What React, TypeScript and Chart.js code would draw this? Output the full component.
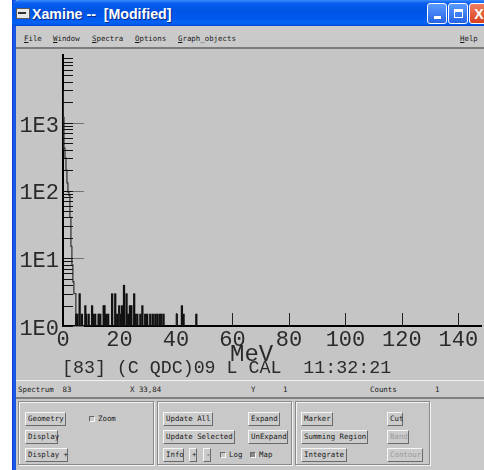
import React, { useEffect, useRef } from "react";
import { Chart, registerables } from "chart.js";

Chart.register(...registerables);

// ---------- data ----------
const decayMeV = [0, 0.35, 0.7, 1.05, 1.4, 1.75, 2.1, 2.45, 2.8, 3.15, 3.5, 3.85, 4.2, 4.55, 4.9];
const decayCounts = [3000, 1200, 420, 300, 200, 130, 95, 85, 40, 15, 8, 4.5, 3, 3, 1];

const eventMeV = [
  4.7, 5.1, 5.9, 6.7, 7.9, 8.2, 9.1, 10.3, 10.7, 11.4, 12.6, 13.2, 14.4, 14.7, 15.3, 16.0,
  17.4, 18.5, 19.2, 19.9, 20.4, 20.9, 21.6, 22.5, 23.1, 23.7, 24.2, 25.2, 25.6, 26.3, 27.4,
  28.1, 29.1, 29.8, 30.9, 31.8, 32.7, 33.4, 34.2, 34.8, 35.6, 40.3, 42.1, 42.7, 47.2,
];
const eventCounts = [
  1.5, 1.5, 3, 1.5, 2, 1.5, 1.5, 2, 1.5, 1.5, 1.5, 1.5, 2, 2, 1.5, 1.5,
  3, 3, 1.5, 2, 1.5, 2, 4, 3, 1.5, 2, 2, 3, 1.5, 1.5, 1.5,
  2, 1.5, 1.5, 1.5, 1.5, 1.5, 1.5, 1.5, 1.5, 1.5, 1.5, 2, 1.5, 1.5,
];

const xTickValues = [0, 20, 40, 60, 80, 100, 120, 140];
const yDecades = [1, 10, 100, 1000];
const yTickLabels = ["1E0", "1E1", "1E2", "1E3"];
const minorMultipliers = [1, 2, 3, 4, 5, 6, 7, 8, 9];
const xTitle = "MeV";
const caption = "[83] (C QDC)09 L CAL  11:32:21";

const titleText = "Xamine --  [Modified]";
const menuItems = [
  { label: "File", x: 24 },
  { label: "Window", x: 53 },
  { label: "Spectra", x: 92 },
  { label: "Options", x: 135 },
  { label: "Graph_objects", x: 178 },
  { label: "Help", x: 460 },
];
const statusItems = [
  { label: "Spectrum  83", x: 18 },
  { label: "X 33,84", x: 130 },
  { label: "Y", x: 251 },
  { label: "1", x: 283 },
  { label: "Counts", x: 370 },
  { label: "1", x: 435 },
];
const buttons = [
  { label: "Geometry", x: 25, y: 412, w: 41 },
  { label: "Display", x: 25, y: 430, w: 33 },
  { label: "Display +", x: 25, y: 448, w: 43 },
  { label: "Update All", x: 163, y: 412, w: 50 },
  { label: "Expand", x: 248, y: 412, w: 32 },
  { label: "Update Selected", x: 163, y: 430, w: 72 },
  { label: "UnExpand", x: 248, y: 430, w: 40 },
  { label: "Info", x: 163, y: 448, w: 21 },
  { label: "+", x: 189, y: 448, w: 8 },
  { label: "-", x: 203, y: 448, w: 8 },
  { label: "Marker", x: 301, y: 412, w: 32 },
  { label: "Cut", x: 387, y: 412, w: 16 },
  { label: "Summing Region", x: 301, y: 430, w: 67 },
  { label: "Band", x: 387, y: 430, w: 22, disabled: true },
  { label: "Integrate", x: 301, y: 448, w: 46 },
  { label: "Contour", x: 387, y: 448, w: 36, disabled: true },
];
const checks = [
  { label: "Zoom", x: 89, y: 416, on: false },
  { label: "Log", x: 220, y: 452, on: false },
  { label: "Map", x: 250, y: 452, on: true },
];
const groups = [
  { x: 18, w: 136 },
  { x: 157, w: 135 },
  { x: 295, w: 135 },
];

const MONO = '"Liberation Mono", "DejaVu Sans Mono", monospace';
const UI = '"DejaVu Sans Mono", monospace';

const axisMarks = {
  id: "axisMarks",
  afterDatasetsDraw(chart: any) {
    const { ctx, chartArea: a, scales } = chart;
    const x = scales.x;
    const y = scales.y;
    ctx.save();
    ctx.lineWidth = 1;
    for (const d of yDecades) {
      for (const m of minorMultipliers) {
        const v = d * m;
        if (v > y.max) continue;
        const py = Math.round(y.getPixelForValue(v)) + 0.5;
        if (m === 1) {
          ctx.strokeStyle = "#727272";
          ctx.beginPath();
          ctx.moveTo(a.left, py);
          ctx.lineTo(a.left + 21, py);
          ctx.stroke();
        }
        ctx.strokeStyle = "#111";
        ctx.beginPath();
        ctx.moveTo(a.left, py);
        ctx.lineTo(a.left + 10, py);
        ctx.stroke();
      }
    }
    ctx.strokeStyle = "#222";
    for (const t of xTickValues) {
      if (t === 0) continue;
      const px = Math.round(x.getPixelForValue(t)) + 0.5;
      ctx.beginPath();
      ctx.moveTo(px, a.bottom);
      ctx.lineTo(px, a.bottom - 13);
      ctx.stroke();
    }
    ctx.fillStyle = "#2a2a2a";
    ctx.textAlign = "left";
    ctx.textBaseline = "alphabetic";
    ctx.font = `24px ${MONO}`;
    ctx.fillText(xTitle, a.left + 167, a.bottom + 35);
    ctx.font = `18.3px ${MONO}`;
    ctx.fillText(caption, a.left - 1, a.bottom + 47);
    ctx.restore();
  },
};

function SpectrumChart() {
  const ref = useRef<HTMLCanvasElement>(null);
  useEffect(() => {
    if (!ref.current) return;
    const chart = new Chart(ref.current, {
      type: "bar",
      data: {
        datasets: [
          {
            type: "line",
            data: decayMeV.map((v, i) => ({ x: v, y: decayCounts[i] })),
            stepped: "after",
            borderColor: "#3a3a3a",
            borderWidth: 1.3,
            pointRadius: 0,
            fill: false,
            order: 1,
          } as any,
          {
            type: "bar",
            data: eventMeV.map((v, i) => ({ x: v, y: eventCounts[i] })),
            backgroundColor: "#111",
            barThickness: 1.6,
            grouped: false,
            order: 0,
          } as any,
        ],
      },
      options: {
        animation: false,
        responsive: false,
        maintainAspectRatio: false,
        layout: { padding: { top: 6, right: 3, left: 0, bottom: 0 } },
        plugins: { legend: { display: false }, tooltip: { enabled: false } },
        scales: {
          x: {
            type: "linear",
            min: 0,
            max: 148,
            offset: false,
            grid: { display: false, drawTicks: false, offset: false },
            border: { display: true, color: "#000", width: 2 },
            ticks: {
              stepSize: 20,
              includeBounds: false,
              autoSkip: false,
              maxRotation: 0,
              padding: 1,
              color: "#2a2a2a",
              font: { family: MONO, size: 22 },
            },
            afterFit: (s: any) => {
              s.height = 54;
              s.paddingLeft = 0;
              s.paddingRight = 0;
            },
          },
          y: {
            type: "logarithmic",
            min: 1,
            max: 10000,
            grid: { display: false, drawTicks: false },
            border: { display: true, color: "#000", width: 2 },
            ticks: {
              autoSkip: false,
              padding: 4,
              labelOffset: 3,
              color: "#2a2a2a",
              font: { family: MONO, size: 22 },
              callback: (v: any) => {
                const idx = yDecades.indexOf(Number(v));
                return idx >= 0 ? yTickLabels[idx] : "";
              },
            },
            afterFit: (s: any) => {
              s.width = 47;
              s.paddingTop = 0;
              s.paddingBottom = 0;
            },
          },
        },
      } as any,
      plugins: [axisMarks],
    });
    return () => chart.destroy();
  }, []);
  return (
    <canvas
      ref={ref}
      width={468}
      height={331}
      style={{ position: "absolute", left: 16, top: 49, width: 468, height: 331 }}
    />
  );
}

function XPButton({ x, bg, children }: { x: number; bg: string; children?: any }) {
  return (
    <div
      style={{
        position: "absolute",
        left: x,
        top: 3,
        width: 20,
        height: 21,
        borderRadius: 3,
        border: "1px solid #fff",
        boxSizing: "border-box",
        background: bg,
        color: "#fff",
        fontWeight: "bold",
        fontFamily: '"Liberation Sans", sans-serif',
        display: "flex",
        alignItems: "center",
        justifyContent: "center",
        fontSize: 14,
      }}
    >
      {children}
    </div>
  );
}

export default function App() {
  const uiText = { fontFamily: UI, fontSize: 7.4, color: "#1a1a1a", whiteSpace: "pre" as const };
  return (
    <div
      style={{
        position: "absolute",
        left: 0,
        top: 0,
        width: 484,
        height: 470,
        overflow: "hidden",
        background: "#fff",
      }}
    >
      {/* window frame */}
      <div style={{ position: "absolute", left: 12, top: 0, width: 480, height: 470, background: "#c8c8c8" }} />
      <div style={{ position: "absolute", left: 12, top: 0, width: 4, height: 470, background: "linear-gradient(to right,#0831d9,#1d5ee8,#1550e0)" }} />
      {/* title bar */}
      <div
        style={{
          position: "absolute",
          left: 12,
          top: 0,
          width: 480,
          height: 26,
          borderRadius: "7px 7px 0 0",
          background:
            "linear-gradient(to bottom,#3b8cff 0%,#0a5ef0 12%,#0054e3 40%,#0058ee 70%,#0463f5 88%,#0048d8 100%)",
        }}
      />
      <div style={{ position: "absolute", left: 16, top: 8, width: 14, height: 11, background: "#e8e8e8", border: "1px solid #5a5a5a", boxSizing: "border-box" }}>
        <div style={{ position: "absolute", left: 1, top: 3, width: 8, height: 2, background: "#333" }} />
      </div>
      <div
        style={{
          position: "absolute",
          left: 32,
          top: 6,
          fontFamily: '"Liberation Sans", Arial, sans-serif',
          fontWeight: "bold",
          fontSize: 14.2,
          color: "#fff",
          whiteSpace: "pre",
          textShadow: "1px 1px 0 #0a2a8a",
        }}
      >
        {titleText}
      </div>
      <XPButton x={427} bg="linear-gradient(#5b9bff,#2663e5)">
        <div style={{ width: 7, height: 3, background: "#fff", marginTop: 8 }} />
      </XPButton>
      <XPButton x={448} bg="linear-gradient(#5b9bff,#2663e5)">
        <div style={{ width: 9, height: 9, border: "1px solid #fff", borderTopWidth: 3, boxSizing: "border-box" }} />
      </XPButton>
      <XPButton x={469} bg="linear-gradient(#f08060,#d84020)">
        X
      </XPButton>

      {/* menu bar */}
      <div style={{ position: "absolute", left: 16, top: 26, width: 470, height: 21, background: "#cacaca" }} />
      {menuItems.map((m) => (
        <div key={m.label} style={{ ...uiText, position: "absolute", left: m.x, top: 34 }}>
          <span style={{ textDecoration: "underline" }}>{m.label[0]}</span>
          {m.label.slice(1)}
        </div>
      ))}
      <div style={{ position: "absolute", left: 16, top: 47, width: 470, height: 2, background: "#7c7c7c" }} />

      {/* plot area */}
      <div style={{ position: "absolute", left: 16, top: 49, width: 470, height: 331, background: "#c5c5c5" }} />
      <SpectrumChart />

      {/* status bar */}
      <div style={{ position: "absolute", left: 16, top: 380, width: 470, height: 1, background: "#f0f0f0" }} />
      <div style={{ position: "absolute", left: 16, top: 381, width: 470, height: 17, background: "#cacaca" }} />
      {statusItems.map((s, i) => (
        <div key={i} style={{ ...uiText, position: "absolute", left: s.x, top: 385 }}>
          {s.label}
        </div>
      ))}
      <div style={{ position: "absolute", left: 16, top: 397, width: 470, height: 2, background: "#808080" }} />
      <div style={{ position: "absolute", left: 16, top: 399, width: 470, height: 71, background: "#c8c8c8" }} />

      {/* control groups */}
      {groups.map((g, i) => (
        <div
          key={i}
          style={{
            position: "absolute",
            left: g.x,
            top: 401,
            width: g.w,
            height: 64,
            boxSizing: "border-box",
            border: "1px solid #8a8a8a",
            boxShadow: "inset 1px 1px 0 #f4f4f4, 1px 1px 0 #f4f4f4",
          }}
        />
      ))}
      {buttons.map((b) => (
        <div
          key={b.label}
          style={{
            ...uiText,
            position: "absolute",
            left: b.x,
            top: b.y,
            width: b.w,
            height: 14,
            boxSizing: "border-box",
            borderStyle: "solid",
            borderWidth: 1,
            borderColor: "#f6f6f6 #6a6a6a #6a6a6a #f6f6f6",
            background: "#cbcbcb",
            paddingLeft: 2,
            lineHeight: "12px",
            color: b.disabled ? "#9a9a9a" : "#1a1a1a",
          }}
        >
          {b.label}
        </div>
      ))}
      {checks.map((c) => (
        <React.Fragment key={c.label}>
          <div
            style={{
              position: "absolute",
              left: c.x,
              top: c.y,
              width: 6,
              height: 6,
              boxSizing: "border-box",
              borderStyle: "solid",
              borderWidth: 1,
              borderColor: "#6a6a6a #f6f6f6 #f6f6f6 #6a6a6a",
              background: c.on ? "#8a8a8a" : "#c8c8c8",
            }}
          />
          <div style={{ ...uiText, position: "absolute", left: c.x + 9, top: c.y - 2 }}>{c.label}</div>
        </React.Fragment>
      ))}
    </div>
  );
}
